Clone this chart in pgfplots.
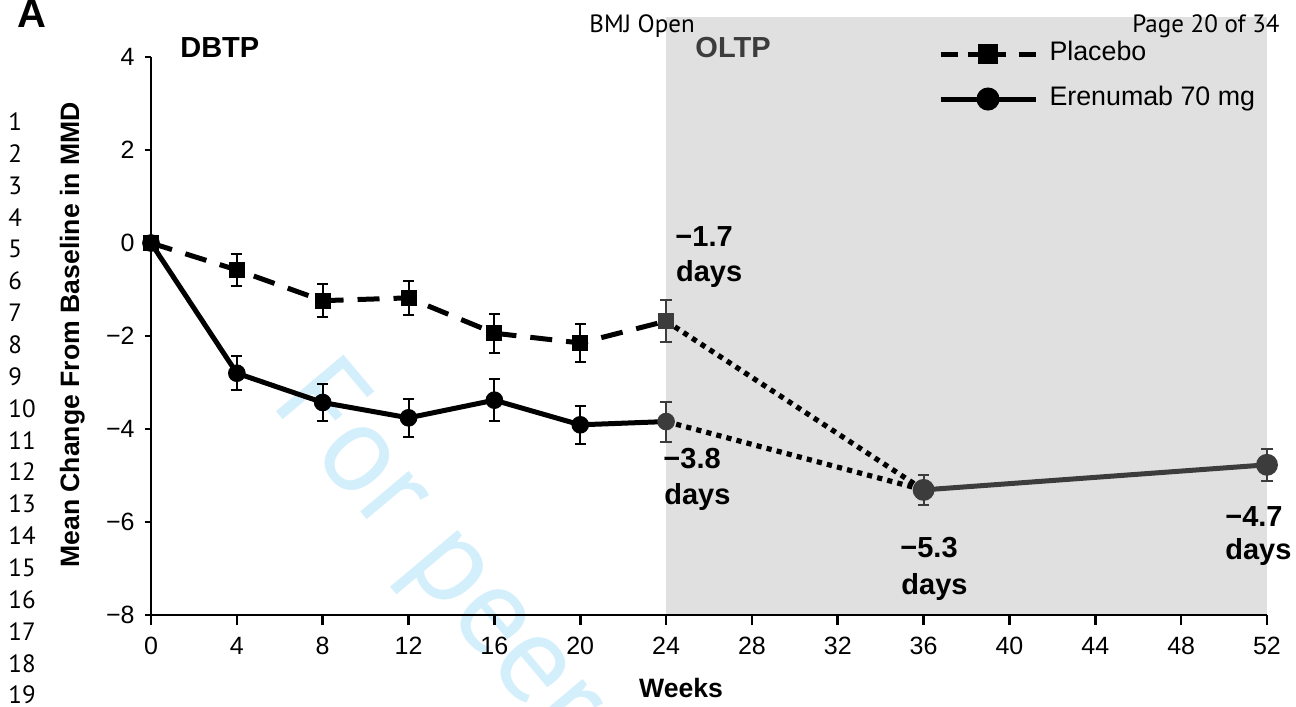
\documentclass[border=0pt]{standalone}
\usepackage{fontspec}
\setmainfont{Liberation Sans}
\newfontfamily\ptsans{PT Sans}
\usepackage{pgfplots}
\pgfplotsset{compat=1.18}
\usepackage{pgfplotstable}

\definecolor{shade}{RGB}{224,224,224}
\definecolor{dgray}{RGB}{60,60,60}
\definecolor{wm}{RGB}{212,239,252}

\pgfplotstableread{
x y e
0 0 0
4 -0.58 0.34
8 -1.24 0.36
12 -1.18 0.37
16 -1.94 0.42
20 -2.15 0.41
24 -1.68 0.45
}\placebo
\pgfplotstableread{
x y e
0 0 0
4 -2.80 0.36
8 -3.43 0.39
12 -3.76 0.41
16 -3.38 0.45
20 -3.91 0.41
24 -3.84 0.43
}\erenumab
\pgfplotstableread{
x y e
36 -5.31 0.33
52 -4.77 0.35
}\oltp

\begin{document}
\begin{tikzpicture}
\path[use as bounding box] (-75.5bp,-46bp) rectangle (572.5bp,307.5bp);
% watermark
\node[rotate=-50, anchor=base west, inner sep=0pt, text=wm, font=\ptsans\fontsize{63bp}{70bp}\selectfont] at (59bp,106bp) {For peer review only};
% line numbers
\foreach \i in {1,...,19} {
  \pgfmathsetmacro\yy{242.25-(\i-1)*15.93}
  \node[anchor=base west, inner sep=0pt, font=\ptsans\fontsize{12.5bp}{15bp}\selectfont] at (-71.5bp,\yy bp) {\i};
}
\node[anchor=base west, inner sep=0pt, font=\bfseries\fontsize{20bp}{22bp}\selectfont] at (-67bp,293.5bp) {A};

\begin{axis}[
  scale only axis, width=558bp, height=279bp,
  xmin=0, xmax=52, ymin=-8, ymax=4,
  axis lines*=left,
  axis line style={line width=1.3bp, black},
  xtick={0,4,...,52}, ytick={-8,-6,...,4},
  yticklabels={−8,−6,−4,−2,0,2,4},
  tick align=outside, major tick length=3bp,
  xtick style={/pgfplots/major tick length=5bp},
  tick style={line width=1.3bp, black},
  /pgf/number format/assume math mode=true,
  tick label style={font=\fontsize{12.5bp}{15bp}\selectfont},
  xticklabel style={inner sep=0pt, anchor=north, yshift=-8bp},
  yticklabel style={inner sep=0pt, anchor=east, xshift=-5bp},
  clip=false, axis on top,
  xlabel={Weeks}, ylabel={Mean Change From Baseline in MMD},
  label style={font=\bfseries\fontsize{13.3bp}{15bp}\selectfont},
  xlabel style={at={(axis description cs:0.475,-0.147)}, anchor=base},
  ylabel style={at={(axis description cs:-0.0645,0.502)}, anchor=base},
  legend cell align=left,
  legend style={draw=none, fill=none, at={(axis description cs:0.7052,0.965)}, anchor=west,
    inner sep=0pt, outer sep=0pt, row sep=10bp, column sep=0pt, font=\fontsize{13.4bp}{15bp}\selectfont,
    nodes={inner sep=0pt, text height=9.5bp, text depth=3bp}},
  legend image code/.code={\draw[mark repeat=2, mark phase=2, #1] plot coordinates {(0bp,0bp) (23.75bp,0bp) (47.5bp,0bp)};
    \path[draw=none, fill=none] (0bp,0bp) -- (54.5bp,0bp);},
  error bars/error bar style={line width=1bp},
  error bars/error mark options={rotate=90, mark size=2.8bp, line width=1bp},
]
% shaded OLTP region
\addplot[draw=none, fill=shade, forget plot] coordinates {(24,-8) (52,-8) (52,4.86) (24,4.86)} -- cycle;

% legend entries
\addlegendimage{black, line width=2.5bp, dash pattern=on 8.5bp off 5bp on 19bp off 6.5bp on 8.5bp, mark=square*, mark size=3.6bp, mark options={solid}}
\addlegendentry{Placebo}
\addlegendimage{black, line width=2.5bp, mark=*, mark size=4.5bp, mark options={solid}}
\addlegendentry{Erenumab 70 mg}

% dotted transitions
\addplot[forget plot, black, line width=2.6bp, dash pattern=on 2.6bp off 2.6bp] coordinates {(24,-1.68) (36,-5.31)};
\addplot[forget plot, black, line width=2.6bp, dash pattern=on 2.6bp off 2.6bp] coordinates {(24,-3.84) (36,-5.31)};

% DBTP lines
\addplot[forget plot, black, line width=2.5bp, dash pattern=on 11bp off 7bp] table[x=x,y=y] {\placebo};
\addplot[forget plot, black, line width=2.5bp] table[x=x,y=y] {\erenumab};

% DBTP markers with error bars
\addplot[forget plot, only marks, black, mark=square*, mark size=3.75bp, skip coords between index={6}{7},
  error bars/.cd, y dir=both, y explicit] table[x=x,y=y,y error=e] {\placebo};
\addplot[forget plot, only marks, dgray, mark=square*, mark size=3.75bp, skip coords between index={0}{6},
  error bars/.cd, y dir=both, y explicit] table[x=x,y=y,y error=e] {\placebo};
\addplot[forget plot, only marks, black, mark=*, mark size=4.2bp, skip coords between index={6}{7},
  error bars/.cd, y dir=both, y explicit] table[x=x,y=y,y error=e] {\erenumab};
\addplot[forget plot, only marks, dgray, mark=*, mark size=4.2bp, skip coords between index={0}{6},
  error bars/.cd, y dir=both, y explicit] table[x=x,y=y,y error=e] {\erenumab};

% OLTP
\addplot[forget plot, dgray, line width=2.5bp, mark=*, mark size=4.2bp,
  error bars/.cd, y dir=both, y explicit] table[x=x,y=y,y error=e] {\oltp};

% period labels
\node[anchor=base west, inner sep=0pt, font=\bfseries\fontsize{14.5bp}{17bp}\selectfont] at (axis cs:1.35,4.0) {DBTP};
\node[anchor=base west, inner sep=0pt, text=dgray, font=\bfseries\fontsize{14.5bp}{17bp}\selectfont] at (axis cs:25.35,4.0) {OLTP};

% value annotations
\node[anchor=base west, inner sep=0pt, font=\bfseries\fontsize{14.5bp}{17bp}\selectfont] at (axis cs:24.42,-0.065) {−1.7};
\node[anchor=base west, inner sep=0pt, font=\bfseries\fontsize{14.5bp}{17bp}\selectfont] at (axis cs:24.45,-0.82) {days};
\node[anchor=base west, inner sep=0pt, font=\bfseries\fontsize{14.5bp}{17bp}\selectfont] at (axis cs:23.86,-4.86) {−3.8};
\node[anchor=base west, inner sep=0pt, font=\bfseries\fontsize{14.5bp}{17bp}\selectfont] at (axis cs:23.9,-5.63) {days};
\node[anchor=base west, inner sep=0pt, font=\bfseries\fontsize{14.5bp}{17bp}\selectfont] at (axis cs:34.90,-6.77) {−5.3};
\node[anchor=base west, inner sep=0pt, font=\bfseries\fontsize{14.5bp}{17bp}\selectfont] at (axis cs:34.95,-7.55) {days};
\node[anchor=base west, inner sep=0pt, font=\bfseries\fontsize{14.5bp}{17bp}\selectfont] at (axis cs:50.04,-6.09) {−4.7};
\node[anchor=base west, inner sep=0pt, font=\bfseries\fontsize{14.5bp}{17bp}\selectfont] at (axis cs:50.04,-6.80) {days};
\end{axis}
% header (on top of the shading)
\node[anchor=base west, inner sep=0pt, font=\ptsans\fontsize{12.5bp}{15bp}\selectfont] at (219bp,291bp) {BMJ Open};
\node[anchor=base east, inner sep=0pt, font=\ptsans\fontsize{12.5bp}{15bp}\selectfont] at (564.5bp,291bp) {Page 20 of 34};
\end{tikzpicture}
\end{document}
